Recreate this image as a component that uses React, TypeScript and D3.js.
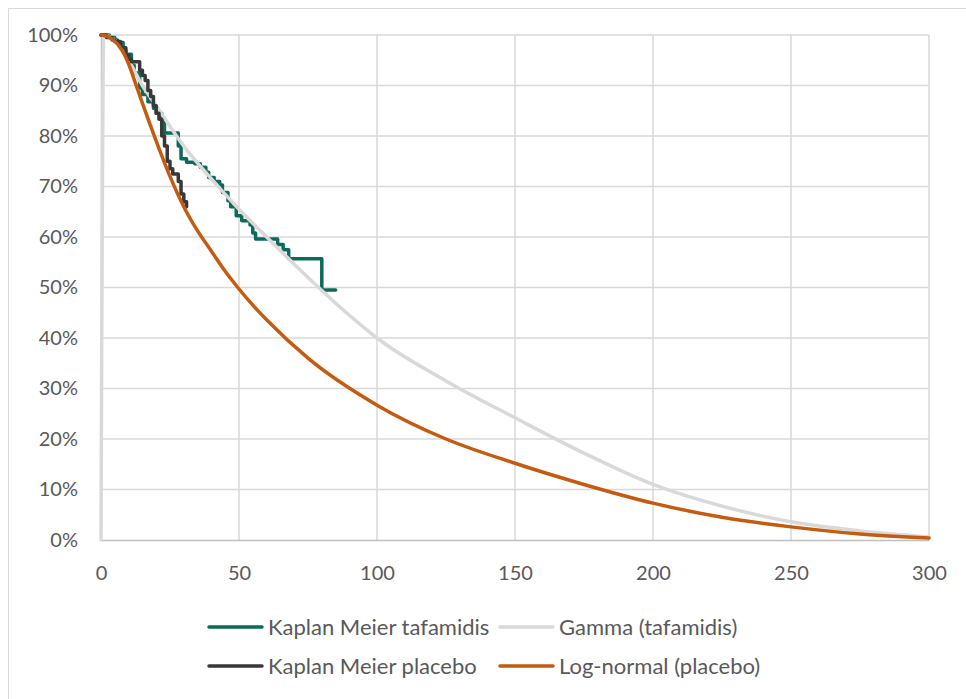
import React, { useEffect, useRef } from "react";
import * as d3 from "d3";

// x: months, y: survival proportion
const kmTafamidis: [number, number][] = [
  [0, 1.0], [3, 0.995], [5, 0.99], [6, 0.985], [8, 0.97], [9, 0.962], [11, 0.94],
  [12, 0.925], [14, 0.895], [15, 0.882], [17, 0.868], [19, 0.855], [20, 0.845], [22, 0.83],
  [23, 0.806], [28, 0.78], [29, 0.755], [31, 0.748], [34, 0.745], [36, 0.738], [38, 0.728],
  [39, 0.718], [41, 0.71], [43, 0.703], [44, 0.688], [46, 0.672], [47, 0.66], [49, 0.642],
  [51, 0.632], [54, 0.624], [55, 0.608], [56, 0.596], [64, 0.585], [66, 0.575], [68, 0.557],
  [80, 0.495], [85, 0.495],
];

const gammaTafamidis: [number, number][] = [
  [0, 0], [1, 1.0], [5, 0.99], [10, 0.95], [15, 0.9], [20, 0.86], [30, 0.78], [40, 0.715],
  [50, 0.655], [60, 0.6], [75, 0.52], [90, 0.445], [100, 0.4], [125, 0.315], [150, 0.242],
  [175, 0.172], [200, 0.11], [225, 0.067], [250, 0.036], [275, 0.018], [300, 0.006],
];

const kmPlacebo: [number, number][] = [
  [0, 1.0], [2, 0.995], [4, 0.99], [5, 0.987], [7, 0.975], [9, 0.96], [10, 0.952],
  [11, 0.947], [14, 0.93], [15, 0.92], [16, 0.91], [17, 0.89], [18, 0.878], [19, 0.86],
  [20, 0.845], [21, 0.833], [22, 0.8], [23, 0.78], [24, 0.75], [25, 0.735], [26, 0.725],
  [28, 0.71], [29, 0.685], [30, 0.67], [31, 0.66],
];

const logNormalPlacebo: [number, number][] = [
  [0, 1.0], [2, 0.998], [4, 0.992], [6, 0.982], [8, 0.966], [10, 0.943], [12, 0.912],
  [15, 0.865], [20, 0.79], [25, 0.72], [30, 0.66], [35, 0.612], [40, 0.572], [45, 0.532],
  [50, 0.497], [55, 0.465], [60, 0.436], [75, 0.36], [100, 0.267], [125, 0.2], [150, 0.152],
  [175, 0.11], [200, 0.073], [225, 0.045], [250, 0.026], [275, 0.012], [300, 0.004],
];

const xTicks = [0, 50, 100, 150, 200, 250, 300];
const yTicks = [0, 0.1, 0.2, 0.3, 0.4, 0.5, 0.6, 0.7, 0.8, 0.9, 1.0];

const seriesList = [
  { name: "Kaplan Meier tafamidis", data: kmTafamidis, color: "#0b6a5a", step: true },
  { name: "Gamma (tafamidis)", data: gammaTafamidis, color: "#d9d9d9", step: false },
  { name: "Kaplan Meier placebo", data: kmPlacebo, color: "#383838", step: true },
  { name: "Log-normal (placebo)", data: logNormalPlacebo, color: "#c55a11", step: false },
];

const FONT = "Lato, 'Open Sans', sans-serif";

const App = () => {
  const ref = useRef<SVGSVGElement>(null);

  useEffect(() => {
    const svg = d3.select(ref.current);
    svg.selectAll("*").remove();

    const width = 966, height = 699;
    const x = d3.scaleLinear().domain([0, 300]).range([101, 929]);
    const y = d3.scaleLinear().domain([0, 1]).range([540, 35]);

    // chart border
    svg.append("rect")
      .attr("x", 8.5).attr("y", 8.5)
      .attr("width", width + 20).attr("height", height + 20)
      .attr("fill", "#fff").attr("stroke", "#d9d9d9").attr("stroke-width", 1);

    // gridlines
    const grid = svg.append("g");
    grid.selectAll("line.h").data(yTicks.slice(1)).join("line")
      .attr("x1", x(0)).attr("x2", x(300))
      .attr("y1", d => y(d)).attr("y2", d => y(d))
      .attr("stroke", "#d9d9d9").attr("stroke-width", 1.5);
    grid.selectAll("line.v").data(xTicks.slice(1)).join("line")
      .attr("y1", y(0)).attr("y2", y(1))
      .attr("x1", d => x(d)).attr("x2", d => x(d))
      .attr("stroke", "#d9d9d9").attr("stroke-width", 1.5);

    // axes
    const xAxis = svg.append("g").attr("transform", `translate(0,${y(0)})`)
      .call(d3.axisBottom(x).tickValues(xTicks).tickSize(0).tickPadding(26).tickFormat(d3.format("d")));
    xAxis.select(".domain").attr("stroke", "#bfbfbf").attr("stroke-width", 1.5);
    xAxis.selectAll("text").attr("font-family", FONT).attr("font-size", 20).attr("fill", "#595959");

    const yAxis = svg.append("g").attr("transform", `translate(${x(0)},0)`)
      .call(d3.axisLeft(y).tickValues(yTicks).tickSize(0).tickPadding(23).tickFormat(d3.format(".0%")));
    yAxis.select(".domain").attr("stroke", "#bfbfbf").attr("stroke-width", 1.5);
    yAxis.selectAll("text").attr("font-family", FONT).attr("font-size", 20).attr("fill", "#595959");

    // series
    seriesList.forEach(s => {
      const line = d3.line<[number, number]>()
        .x(d => x(d[0])).y(d => y(d[1]))
        .curve(s.step ? d3.curveStepAfter : d3.curveMonotoneX);
      svg.append("path")
        .datum(s.data)
        .attr("d", line)
        .attr("fill", "none")
        .attr("stroke", s.color)
        .attr("stroke-width", 3.5)
        .attr("stroke-linejoin", "round")
        .attr("stroke-linecap", "round");
    });

    // legend
    const legend = svg.append("g");
    seriesList.forEach((s, i) => {
      const col = i % 2, row = Math.floor(i / 2);
      const lx = col === 0 ? 209 : 500;
      const ly = row === 0 ? 627 : 666;
      legend.append("line")
        .attr("x1", lx).attr("x2", lx + 53).attr("y1", ly).attr("y2", ly)
        .attr("stroke", s.color).attr("stroke-width", 3.5).attr("stroke-linecap", "round");
      legend.append("text")
        .attr("x", lx + 59).attr("y", ly).attr("dy", "0.35em")
        .attr("font-family", FONT).attr("font-size", 22).attr("fill", "#595959")
        .text(s.name);
    });
  }, []);

  return (
    <div style={{ position: "absolute", left: 0, top: 0 }}>
      <svg ref={ref} width={966} height={699} style={{ display: "block" }} />
    </div>
  );
};

export default App;
